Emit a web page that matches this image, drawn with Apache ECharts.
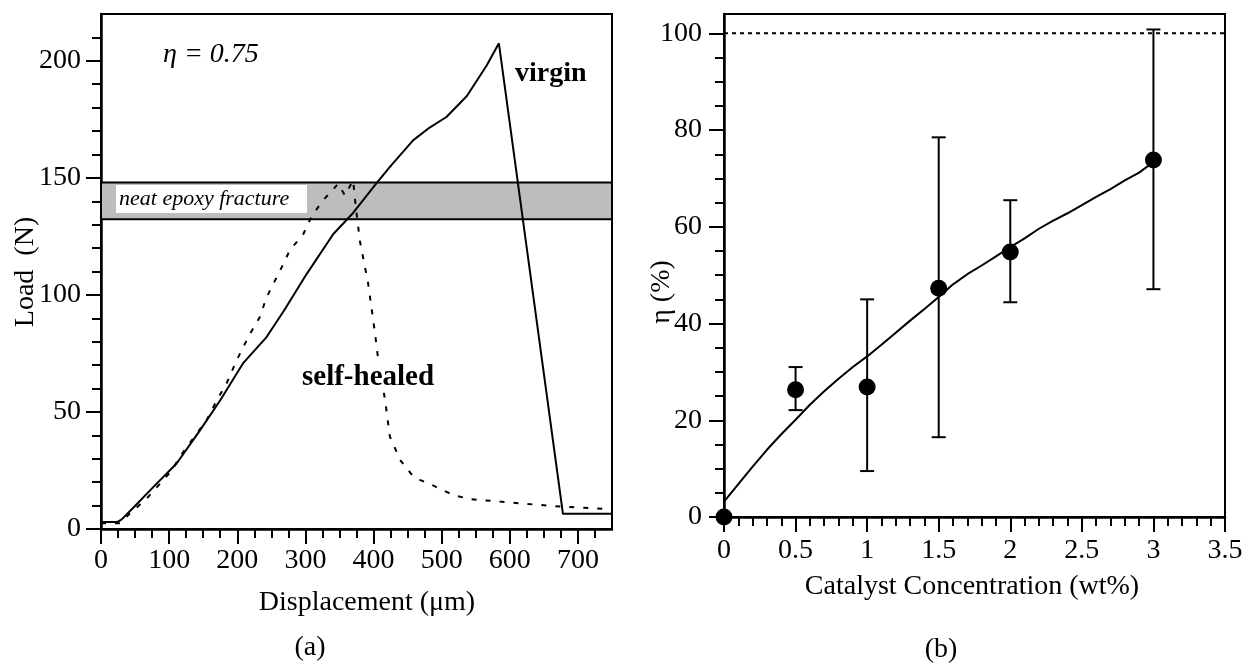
<!DOCTYPE html>
<html>
<head>
<meta charset="utf-8">
<script src="https://cdn.jsdelivr.net/npm/echarts@6/dist/echarts.min.js"></script>
<style>
html, body { margin: 0; padding: 0; background: #fff; }
#chart { width: 1248px; height: 665px; }
</style>
</head>
<body>
<div id="chart"></div>
<script>
// (a) load - displacement curves, [displacement um, load N]
var virgin = [[0,3],[24,3],[30,4],[47,9],[77,18],[111,28],[145,42],[175,55],[209,71],[243,82],[268,93],[302,109],[341,126],[370,135],[405,148],[425,155],[458,166],[480,171],[507,176],[537,185],[566,198],[584,207.5],[678,6.5],[750,6.5]];
var healed = [[0,2.5],[28,2.5],[42,6.5],[67,13],[104,25],[116,31],[155,46.5],[170,55],[184,62],[199,72],[218,83],[233,90.5],[243,99],[263,110.5],[277,119],[297,126],[309,133.5],[326,140.5],[336,143.5],[348,147.5],[358,142.5],[370,149],[374,137.5],[380,123],[392,105],[402,84],[407,72],[417,55],[424,39.5],[439,29.5],[458,22.5],[468,21],[488,18.5],[517,14.5],[541,12.8],[585,11.7],[634,10.5],[678,9.5],[750,8.4]];
var neatBand = [132.3, 148];
var dispTicks = [0, 100, 200, 300, 400, 500, 600, 700];
var loadTicks = [0, 50, 100, 150, 200];

// (b) healing efficiency vs catalyst concentration
var catConc = [0, 0.5, 1, 1.5, 2, 3];
var etaMean = [0, 26.3, 26.9, 47.3, 54.8, 73.8];
var etaLow = [null, 22.1, 9.5, 16.5, 44.4, 47.1];
var etaHigh = [null, 31, 45, 78.5, 65.5, 100.8];
var fitCurve = [[0,3.2],[0.1,6.8],[0.2,10.4],[0.3,13.9],[0.4,17.1],[0.5,20.1],[0.6,23.2],[0.7,26],[0.8,28.6],[0.9,31],[1,33.2],[1.1,35.6],[1.2,38.1],[1.3,40.6],[1.4,43],[1.5,45.5],[1.6,48.1],[1.7,50.2],[1.8,52],[1.9,53.9],[2,55.8],[2.1,57.6],[2.2,59.6],[2.3,61.3],[2.4,62.8],[2.5,64.5],[2.6,66.2],[2.7,67.8],[2.8,69.6],[2.9,71.2],[3,73.4]];
var fullHealing = 100;
var concTicks = [0, 0.5, 1, 1.5, 2, 2.5, 3, 3.5];
var etaTicks = [0, 20, 40, 60, 80, 100];

var serif = "'Liberation Serif', 'Times New Roman', serif";

function minorTicks(min, max, step, majors) {
	var out = [];
	for (var v = min; v <= max + 1e-9; v += step) {
		var r = Math.round(v * 1000) / 1000;
		if (majors.indexOf(r) < 0) out.push(r);
	}
	return out;
}

function mainAxis(grid, min, max, ticks, margin) {
	return {
		type : 'value',
		gridIndex : grid,
		min : min,
		max : max,
		axisLine : { onZero : false, lineStyle : { color : '#000', width : 2.5 } },
		axisTick : { customValues : ticks, length : 15, lineStyle : { color : '#000', width : 2 } },
		axisLabel : { customValues : ticks, margin : margin, color : '#000', fontSize : 28, fontFamily : serif },
		splitLine : { show : false }
	};
}

function minorAxis(grid, min, max, ticks) {
	return {
		type : 'value',
		gridIndex : grid,
		min : min,
		max : max,
		axisLine : { show : false },
		axisTick : { inside : true, customValues : ticks, length : 9, lineStyle : { color : '#000', width : 2 } },
		axisLabel : { show : false },
		splitLine : { show : false }
	};
}

var chart = echarts.init(document.getElementById('chart'));

var option = {
	animation : false,
	backgroundColor : '#fff',
	grid : [
		{ left : 101, top : 14, width : 511, height : 515, show : true, borderColor : '#000', borderWidth : 2 },
		{ left : 724, top : 14, width : 501, height : 503, show : true, borderColor : '#000', borderWidth : 2 }
	],
	xAxis : [
		mainAxis(0, 0, 750, dispTicks, 18),
		minorAxis(0, 0, 750, minorTicks(0, 725, 25, dispTicks)),
		mainAxis(1, 0, 3.5, concTicks, 20),
		minorAxis(1, 0, 3.5, minorTicks(0, 3.4, 0.1, concTicks))
	],
	yAxis : [
		mainAxis(0, 0, 220, loadTicks, 20),
		minorAxis(0, 0, 220, minorTicks(0, 210, 10, loadTicks)),
		mainAxis(1, 0, 104, etaTicks, 22),
		minorAxis(1, 0, 104, minorTicks(0, 100, 5, etaTicks))
	],
	series : [
		{
			name : 'virgin',
			type : 'line',
			xAxisIndex : 0,
			yAxisIndex : 0,
			data : virgin,
			showSymbol : false,
			lineStyle : { color : '#000', width : 2 },
			markArea : {
				silent : true,
				itemStyle : { color : '#bdbdbd', borderColor : '#000', borderWidth : 2 },
				data : [[ { xAxis : 0, yAxis : neatBand[0] }, { xAxis : 750, yAxis : neatBand[1] } ]]
			}
		},
		{
			name : 'self-healed',
			type : 'line',
			xAxisIndex : 0,
			yAxisIndex : 0,
			data : healed,
			showSymbol : false,
			lineStyle : { color : '#000', width : 2, type : [5, 9] }
		},
		{
			name : 'fit',
			type : 'line',
			xAxisIndex : 2,
			yAxisIndex : 2,
			data : fitCurve,
			showSymbol : false,
			lineStyle : { color : '#000', width : 2 }
		},
		{
			name : 'full healing',
			type : 'line',
			xAxisIndex : 2,
			yAxisIndex : 2,
			data : [[0, fullHealing], [3.5, fullHealing]],
			showSymbol : false,
			lineStyle : { color : '#000', width : 2, type : [4, 4] }
		},
		{
			name : 'error',
			type : 'custom',
			xAxisIndex : 2,
			yAxisIndex : 2,
			data : catConc.map(function(c, i) { return [c, etaLow[i], etaHigh[i]]; }).filter(function(d) { return d[1] != null; }),
			renderItem : function(params, api) {
				var lo = api.coord([api.value(0), api.value(1)]);
				var hi = api.coord([api.value(0), api.value(2)]);
				var w = 7;
				var st = { stroke : '#000', lineWidth : 2 };
				return {
					type : 'group',
					children : [
						{ type : 'line', shape : { x1 : lo[0], y1 : lo[1], x2 : hi[0], y2 : hi[1] }, style : st },
						{ type : 'line', shape : { x1 : lo[0] - w, y1 : lo[1], x2 : lo[0] + w, y2 : lo[1] }, style : st },
						{ type : 'line', shape : { x1 : hi[0] - w, y1 : hi[1], x2 : hi[0] + w, y2 : hi[1] }, style : st }
					]
				};
			},
			z : 4
		},
		{
			name : 'eta',
			type : 'scatter',
			xAxisIndex : 2,
			yAxisIndex : 2,
			data : catConc.map(function(c, i) { return [c, etaMean[i]]; }),
			symbolSize : 17,
			itemStyle : { color : '#000', opacity : 1 },
			clip : false,
			z : 10
		}
	],
	graphic : [
		{ type : 'text', x : 163, y : 55, z : 100, style : { text : 'η = 0.75', font : 'italic 28px ' + serif, fill : '#000', verticalAlign : 'middle' } },
		{ type : 'text', x : 515, y : 74, z : 100, style : { text : 'virgin', font : 'bold 28px ' + serif, fill : '#000', verticalAlign : 'middle' } },
		{ type : 'text', x : 301, y : 378, z : 100, style : { text : 'self-healed', font : 'bold 29px ' + serif, fill : '#000', verticalAlign : 'middle', backgroundColor : '#fff', padding : [0, 1] } },
		{ type : 'rect', z : 100, shape : { x : 116, y : 185, width : 191, height : 28 }, style : { fill : '#fff' } },
		{ type : 'text', x : 119, y : 199, z : 101, style : { text : 'neat epoxy fracture', font : 'italic 22px ' + serif, fill : '#000', verticalAlign : 'middle' } },
		{ type : 'text', x : 367, y : 603, z : 100, style : { text : 'Displacement (μm)', font : '28px ' + serif, fill : '#000', align : 'center', verticalAlign : 'middle' } },
		{ type : 'text', x : 310, y : 648, z : 100, style : { text : '(a)', font : '28px ' + serif, fill : '#000', align : 'center', verticalAlign : 'middle' } },
		{ type : 'text', x : 26, y : 272, rotation : Math.PI / 2, z : 100, style : { text : 'Load  (N)', font : '28px ' + serif, fill : '#000', align : 'center', verticalAlign : 'middle' } },
		{ type : 'text', x : 972, y : 587, z : 100, style : { text : 'Catalyst Concentration (wt%)', font : '28px ' + serif, fill : '#000', align : 'center', verticalAlign : 'middle' } },
		{ type : 'text', x : 941, y : 650, z : 100, style : { text : '(b)', font : '28px ' + serif, fill : '#000', align : 'center', verticalAlign : 'middle' } },
		{ type : 'text', x : 662, y : 292, rotation : Math.PI / 2, z : 100, style : { text : 'η (%)', font : '28px ' + serif, fill : '#000', align : 'center', verticalAlign : 'middle' } }
	]
};

chart.setOption(option);
</script>
</body>
</html>
